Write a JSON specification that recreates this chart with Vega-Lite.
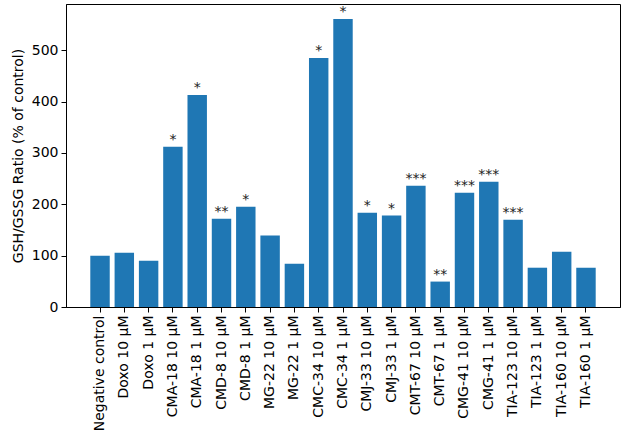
{
  "$schema": "https://vega.github.io/schema/vega-lite/v6.json",
  "width": 554,
  "height": 303,
  "autosize": {"type": "none"},
  "padding": {"left": 66, "top": 4, "right": 10, "bottom": 135},
  "background": "white",
  "config": {
    "view": {"stroke": "black", "strokeWidth": 1},
    "font": "DejaVu Sans",
    "axis": {
      "grid": false,
      "domainColor": "black",
      "tickColor": "black",
      "labelColor": "black",
      "titleColor": "black",
      "labelFont": "DejaVu Sans",
      "titleFont": "DejaVu Sans",
      "labelFontSize": 14,
      "titleFontSize": 14,
      "titleFontWeight": "normal",
      "tickSize": 5
    }
  },
  "data": {
    "values": [
      {"name": "Negative control", "ratio": 100, "sig": ""},
      {"name": "Doxo 10 µM", "ratio": 105.5, "sig": ""},
      {"name": "Doxo 1 µM", "ratio": 90, "sig": ""},
      {"name": "CMA-18 10 µM", "ratio": 312, "sig": "*"},
      {"name": "CMA-18 1 µM", "ratio": 413, "sig": "*"},
      {"name": "CMD-8 10 µM", "ratio": 172, "sig": "**"},
      {"name": "CMD-8 1 µM", "ratio": 195, "sig": "*"},
      {"name": "MG-22 10 µM", "ratio": 139, "sig": ""},
      {"name": "MG-22 1 µM", "ratio": 84, "sig": ""},
      {"name": "CMC-34 10 µM", "ratio": 485, "sig": "*"},
      {"name": "CMC-34 1 µM", "ratio": 561, "sig": "*"},
      {"name": "CMJ-33 10 µM", "ratio": 183.5, "sig": "*"},
      {"name": "CMJ-33 1 µM", "ratio": 178, "sig": "*"},
      {"name": "CMT-67 10 µM", "ratio": 236, "sig": "***"},
      {"name": "CMT-67 1 µM", "ratio": 49.5, "sig": "**"},
      {"name": "CMG-41 10 µM", "ratio": 222.5, "sig": "***"},
      {"name": "CMG-41 1 µM", "ratio": 244, "sig": "***"},
      {"name": "TIA-123 10 µM", "ratio": 170, "sig": "***"},
      {"name": "TIA-123 1 µM", "ratio": 76.5, "sig": ""},
      {"name": "TIA-160 10 µM", "ratio": 107.5, "sig": ""},
      {"name": "TIA-160 1 µM", "ratio": 76.5, "sig": ""}
    ]
  },
  "encoding": {
    "x": {
      "field": "name",
      "type": "nominal",
      "sort": null,
      "scale": {"paddingInner": 0.2, "paddingOuter": 1.045},
      "axis": {
        "title": null,
        "labelAngle": -90,
        "labelAlign": "right",
        "labelBaseline": "middle",
        "labelPadding": 3,
        "labelLimit": 200
      }
    },
    "y": {
      "field": "ratio",
      "type": "quantitative",
      "scale": {"domain": [0, 590], "nice": false},
      "axis": {
        "title": "GSH/GSSG Ratio (% of control)",
        "values": [0, 100, 200, 300, 400, 500],
        "labelPadding": 3,
        "titlePadding": 6
      }
    }
  },
  "layer": [
    {
      "mark": {"type": "bar", "color": "#1f77b4"}
    },
    {
      "mark": {
        "type": "text",
        "baseline": "alphabetic",
        "align": "center",
        "dy": -3,
        "fontSize": 14,
        "color": "#222222"
      },
      "encoding": {
        "text": {"field": "sig"}
      }
    }
  ]
}
